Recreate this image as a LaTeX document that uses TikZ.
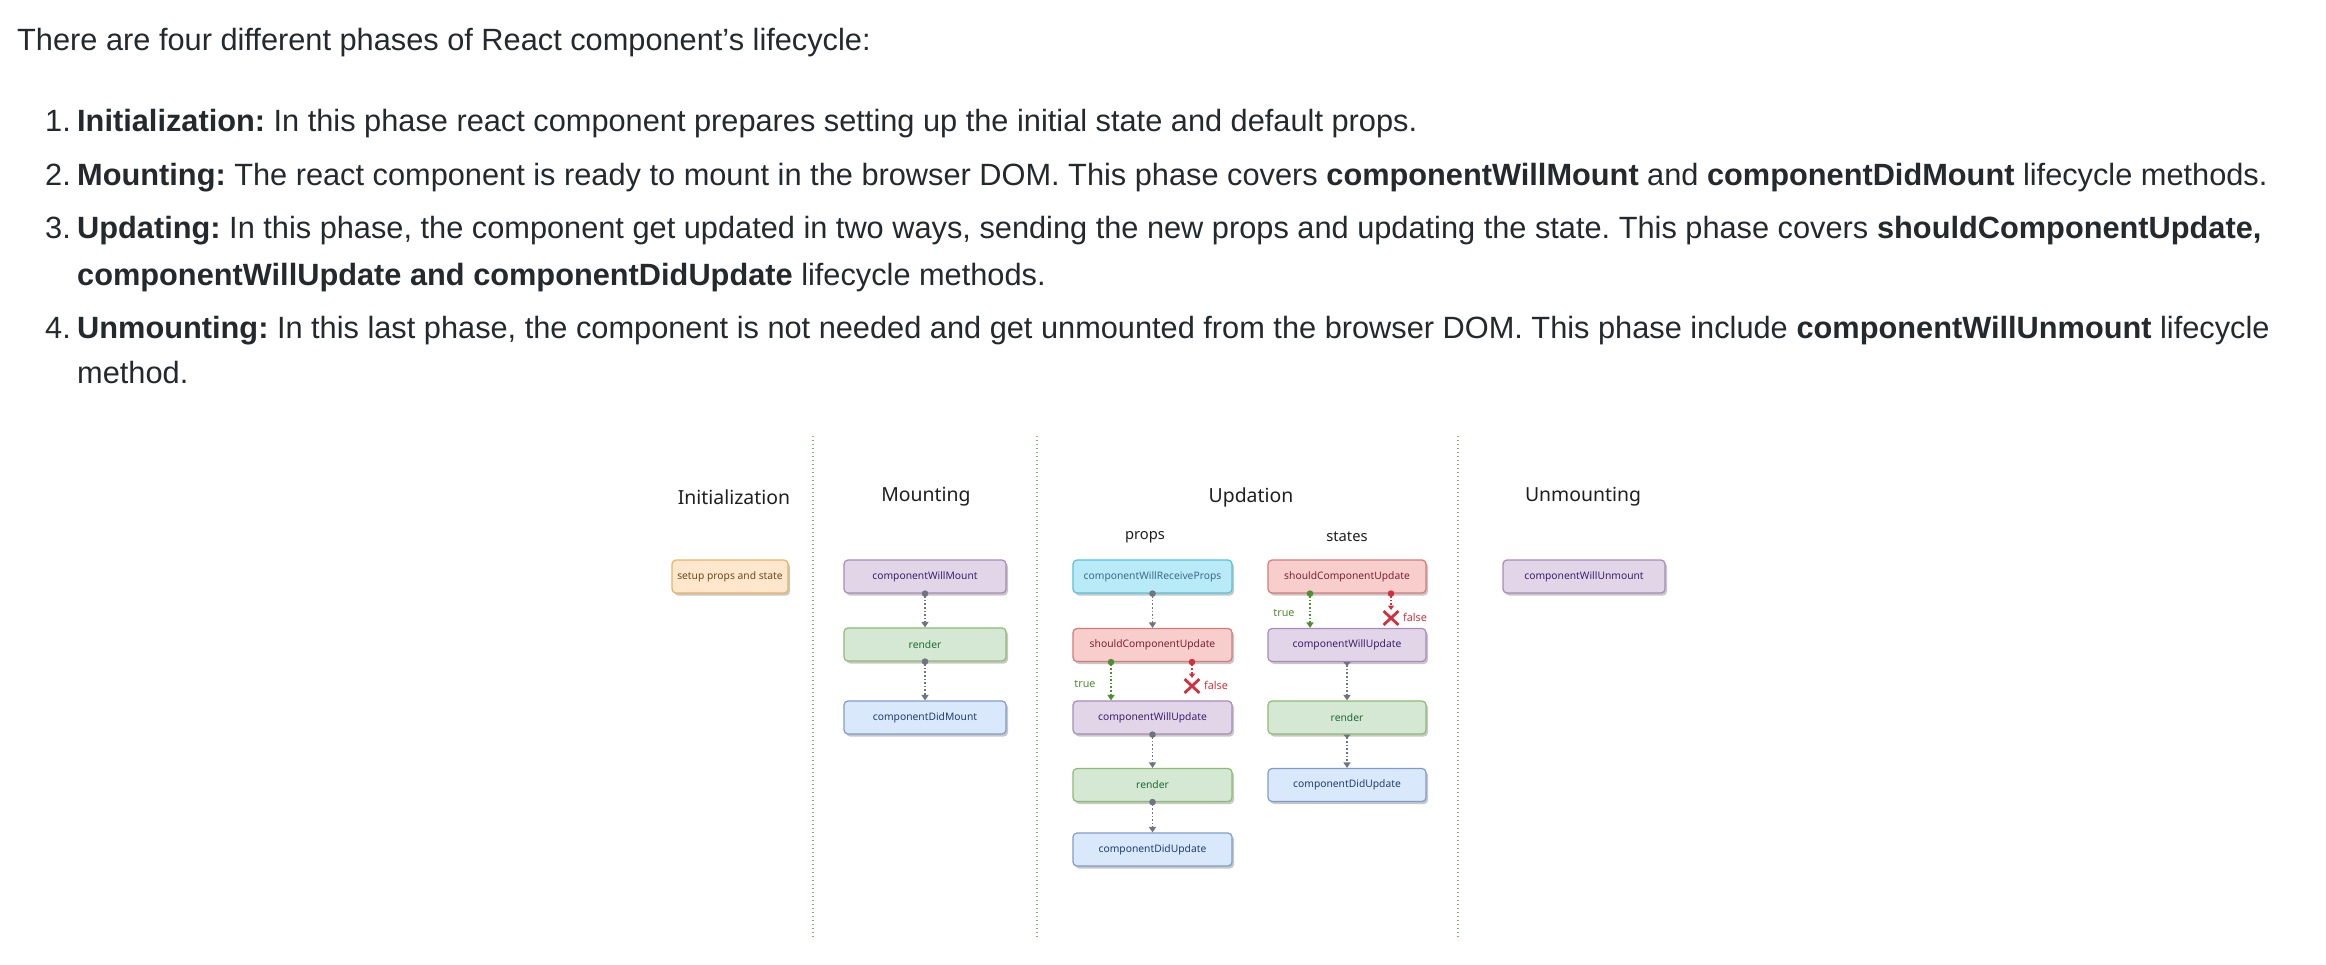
\documentclass[tikz,border=0pt]{standalone}
\usepackage{fontspec}
\setmainfont{Liberation Sans}
\newfontfamily\dfont{Noto Sans}
\usetikzlibrary{arrows.meta,shadows,shapes.misc}
\frenchspacing
\definecolor{txt}{HTML}{24292E}
\definecolor{divc}{HTML}{82B366}
\definecolor{flowc}{HTML}{6E7480}
\definecolor{truec}{HTML}{4E8F2F}
\definecolor{falsec}{HTML}{D0313D}
\definecolor{ofill}{HTML}{FFE6CC}\definecolor{oline}{HTML}{E6B65C}\definecolor{otext}{HTML}{6A4B1C}
\definecolor{pfill}{HTML}{E1D5E7}\definecolor{pline}{HTML}{A88BBA}\definecolor{ptext}{HTML}{3E1F6E}
\definecolor{gfill}{HTML}{D5E8D4}\definecolor{gline}{HTML}{8EBB72}\definecolor{gtext}{HTML}{1E6B34}
\definecolor{bfill}{HTML}{DAE8FC}\definecolor{bline}{HTML}{7E9CCB}\definecolor{btext}{HTML}{1F3F6E}
\definecolor{cfill}{HTML}{B8EAF8}\definecolor{cline}{HTML}{55C2D8}\definecolor{ctext}{HTML}{3A6D8A}
\definecolor{rfill}{HTML}{F8CECC}\definecolor{rline}{HTML}{D47A78}\definecolor{rtext}{HTML}{7A2233}
\newcommand\mybody{\fontsize{30.75}{36}\selectfont}
\newcommand\myboxfont{\dfont\fontsize{10.3}{12}\selectfont}
\newcommand\mytitle{\dfont\fontsize{19.4}{22}\selectfont}
\newcommand\mysub{\dfont\fontsize{14.7}{17}\selectfont}
\newcommand\mylab{\dfont\fontsize{10.8}{12}\selectfont}
\tikzset{
  line/.style={anchor=base west, inner sep=0pt, font=\mybody, text=txt},
  phase/.style={inner sep=0pt, font=\mytitle, text=black!88},
  subphase/.style={inner sep=0pt, font=\mysub, text=black!88},
  box/.style={rectangle, rounded corners=4pt, minimum height=33pt, line width=1.2pt,
    font=\myboxfont, inner sep=0pt,
    drop shadow={shadow xshift=2pt, shadow yshift=-2.5pt, fill=black, opacity=0.22}},
  orangebox/.style={box, fill=ofill, draw=oline, text=otext},
  purplebox/.style={box, fill=pfill, draw=pline, text=ptext},
  greenbox/.style={box, fill=gfill, draw=gline, text=gtext},
  bluebox/.style={box, fill=bfill, draw=bline, text=btext},
  cyanbox/.style={box, fill=cfill, draw=cline, text=ctext},
  redbox/.style={box, fill=rfill, draw=rline, text=rtext},
  divider/.style={draw=divc, line width=1.4pt, dash pattern=on 1.4pt off 2.6pt},
  flow/.style={draw=flowc, line width=1.3pt, dash pattern=on 1.6pt off 2pt,
    {Circle[length=6.5pt]}-{Triangle[width=7pt,length=5.5pt]}, shorten <=-3.25pt},
  flowtri/.style={draw=flowc, line width=1.3pt, dash pattern=on 1.6pt off 2pt,
    {Triangle[reversed,width=7pt,length=4pt]}-{Triangle[width=7pt,length=5.5pt]}},
  trueflow/.style={flow, draw=truec},
  falseflow/.style={flow, draw=falsec, {Circle[length=6.5pt]}-{Triangle[width=6pt,length=4.5pt]}},
  xmark/.style={cross out, draw=falsec, line width=2.8pt, minimum width=12pt, minimum height=11pt, inner sep=0pt},
  truelab/.style={inner sep=0pt, font=\mylab, text=truec},
  falselab/.style={inner sep=0pt, font=\mylab, text=falsec},
}
\begin{document}
\begin{tikzpicture}[x=1pt,y=-1pt]
\useasboundingbox[fill=white] (0,0) rectangle (2326,964);

% ---- text ----
\node[line] (t0) at (17,50) {There are four different phases of React component’s lifecycle:};
\node[line] (n1) at (45,131) {1.};
\node[line] (t1) at (77,131) {\textbf{Initialization:} In this phase react component prepares setting up the initial state and default props.};
\node[line] (n2) at (45,185) {2.};
\node[line] (t2) at (77,185) {\textbf{Mounting:} The react component is ready to mount in the browser DOM. This phase covers \textbf{componentWillMount} and \textbf{componentDidMount} lifecycle methods.};
\node[line] (n3) at (45,238) {3.};
\node[line] (t3) at (77,238) {\textbf{Updating:} In this phase, the component get updated in two ways, sending the new props and updating the state. This phase covers \textbf{shouldComponentUpdate,}};
\node[line] (t3b) at (77,285) {\textbf{componentWillUpdate and componentDidUpdate} lifecycle methods.};
\node[line] (n4) at (45,338) {4.};
\node[line] (t4) at (77,338) {\textbf{Unmounting:} In this last phase, the component is not needed and get unmounted from the browser DOM. This phase include \textbf{componentWillUnmount} lifecycle};
\node[line] (t4b) at (77,383) {method.};

% ---- dividers ----
\draw[divider] (813,436) -- (813,940);
\draw[divider] (1037,436) -- (1037,940);
\draw[divider] (1458,436) -- (1458,940);

% ---- titles ----
\node[phase] (hInit) at (734,497) {Initialization};
\node[phase] (hMount) at (926,497) {Mounting};
\node[phase] (hUpd) at (1251,497) {Updation};
\node[phase] (hUnm) at (1583,497) {Unmounting};
\node[subphase] (hProps) at (1145,537) {props};
\node[subphase] (hStates) at (1347,537) {states};

% ---- boxes ----
\node[orangebox, minimum width=116pt] (setup) at (730,576.5) {setup props and state};

\node[purplebox, minimum width=162pt] (cwm) at (925,576.5) {componentWillMount};
\node[greenbox, minimum width=162pt] (mrender) at (925,644.5) {render};
\node[bluebox, minimum width=162pt] (cdm) at (925,717.5) {componentDidMount};

\node[cyanbox, minimum width=159pt] (cwrp) at (1152.5,576.5) {componentWillReceiveProps};
\node[redbox, minimum width=159pt] (pscu) at (1152.5,645) {shouldComponentUpdate};
\node[purplebox, minimum width=159pt] (pcwu) at (1152.5,717.5) {componentWillUpdate};
\node[greenbox, minimum width=159pt] (prender) at (1152.5,785) {render};
\node[bluebox, minimum width=159pt] (pcdu) at (1152.5,849.5) {componentDidUpdate};

\node[redbox, minimum width=158pt] (sscu) at (1347,576.5) {shouldComponentUpdate};
\node[purplebox, minimum width=158pt] (scwu) at (1347,645) {componentWillUpdate};
\node[greenbox, minimum width=158pt] (srender) at (1347,717.5) {render};
\node[bluebox, minimum width=158pt] (scdu) at (1347,785) {componentDidUpdate};

\node[purplebox, minimum width=162pt] (cwun) at (1584,576.5) {componentWillUnmount};

% ---- X marks and labels ----
\node[xmark] (pxm) at (1192,686) {};
\node[xmark] (sxm) at (1391,618) {};
\node[truelab] (ptrue) at (1085,684) {true};
\node[falselab] (pfalse) at (1216,685) {false};
\node[truelab] (strue) at (1284,613) {true};
\node[falselab] (sfalse) at (1415,617) {false};

% ---- connectors ----
\draw[flow] (cwm.south) -- (mrender.north);
\draw[flow] (mrender.south) -- (cdm.north);

\draw[flow] (cwrp.south) -- (pscu.north);
\draw[trueflow] ([xshift=-41.5pt]pscu.south) -- ([xshift=-41.5pt]pcwu.north);
\draw[falseflow] (pscu.south -| pxm) -- ([yshift=1pt]pxm.north);
\draw[flow] (pcwu.south) -- (prender.north);
\draw[flow] (prender.south) -- (pcdu.north);

\draw[trueflow] ([xshift=-37pt]sscu.south) -- ([xshift=-37pt]scwu.north);
\draw[falseflow] (sscu.south -| sxm) -- ([yshift=1pt]sxm.north);
\draw[flowtri] (scwu.south) -- (srender.north);
\draw[flowtri] (srender.south) -- (scdu.north);
\end{tikzpicture}
\end{document}
